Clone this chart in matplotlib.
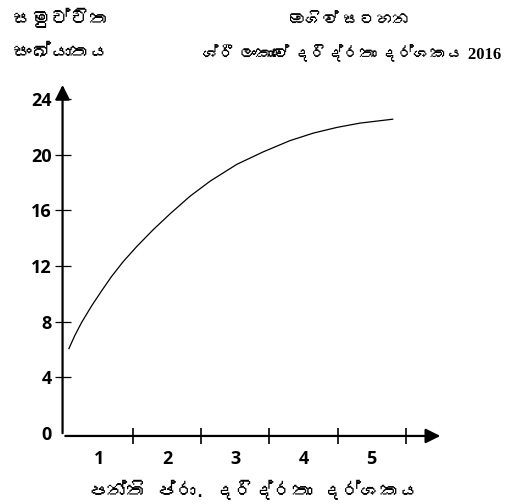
import numpy as np
import matplotlib
matplotlib.use("Agg")
import matplotlib.pyplot as plt
from matplotlib import font_manager
from matplotlib.ft2font import FT2Font

# ogive
x_vals = [0.053, 0.14, 0.24, 0.386, 0.53, 0.68, 0.85, 1.05, 1.29, 1.54, 1.83,
          2.13, 2.52, 2.91, 3.30, 3.65, 3.99, 4.33, 4.81]
cum_freq = [6.07, 7.01, 7.95, 9.13, 10.19, 11.25, 12.31, 13.4, 14.6, 15.75, 17.0,
            18.1, 19.3, 20.2, 21.0, 21.55, 21.95, 22.26, 22.54]

y_ticks = [0, 4, 8, 12, 16, 20, 24]
x_tick_pos = [1, 2, 3, 4, 5]
x_label_pos = [0.5, 1.5, 2.5, 3.5, 4.5]
x_labels = ["1", "2", "3", "4", "5"]

# no shaping engine in matplotlib, so the zero width joiners are left out
title_1 = "ඔගිව් සටහන"
title_2 = "ශ්රී ලංකාවේ දරිද්රතා දර්ශකය 2016"
y_title = "සමුච්චිත\nසංඛ්යාතය"
x_title = "පන්ති ප්රා. දරිද්රතා දර්ශකය"


def find_font(ch):
    # look for any installed font that has the glyph
    for f in font_manager.fontManager.ttflist:
        try:
            if ord(ch) in FT2Font(f.fname).get_charmap():
                return f.name
        except Exception:
            pass
    return None


sin_font = find_font("ස")
fam = [sin_font, "DejaVu Sans"] if sin_font else ["DejaVu Sans"]
fam_serif = ["Liberation Serif", sin_font] if sin_font else ["Liberation Serif"]

fig = plt.figure(figsize=(5.17, 5.04), dpi=100)
ax = fig.add_axes([0.121, 0.135, 0.736, 0.702])

ax.plot(x_vals, cum_freq, color="black", lw=0.9)

ax.set_xlim(-0.04, 5.55)
ax.set_ylim(-0.2, 25.2)

for s in ax.spines.values():
    s.set_visible(False)
ax.annotate("", xy=(1, 0), xytext=(0, 0), xycoords="axes fraction",
            arrowprops=dict(arrowstyle="-|>", lw=1.6, color="black", mutation_scale=22))
ax.annotate("", xy=(0, 1), xytext=(0, 0), xycoords="axes fraction",
            arrowprops=dict(arrowstyle="-|>", lw=1.6, color="black", mutation_scale=22))

# y ticks cross the axis
ax.set_yticks(y_ticks)
ax.set_yticklabels([str(v) for v in y_ticks], fontsize=13, fontfamily="Open Sans",
                   fontweight="bold")
ax.tick_params(axis="y", direction="inout", length=12, width=0.9, pad=2)
ax.get_yaxis().get_major_ticks()[0].tick1line.set_visible(False)

ax.set_xticks(x_tick_pos)
ax.set_xticklabels([])
ax.tick_params(axis="x", direction="inout", length=12, width=1.2)
for xp, lab in zip(x_label_pos, x_labels):
    ax.text(xp, -1.2, lab, ha="center", va="top", fontsize=13,
            fontfamily="Open Sans", fontweight="bold")

fig.text(0.12, 0.985, y_title, ha="center", va="top", fontsize=14,
         family=fam, linespacing=2.1)
fig.text(0.675, 0.975, title_1, ha="center", va="top", fontsize=12,
         family=fam_serif, fontweight="bold")
fig.text(0.68, 0.91, title_2, ha="center", va="top", fontsize=12,
         family=fam_serif, fontweight="bold")
fig.text(0.49, 0.028, x_title, ha="center", va="center", fontsize=14, family=fam)

fig.savefig("out.png", dpi=100)
